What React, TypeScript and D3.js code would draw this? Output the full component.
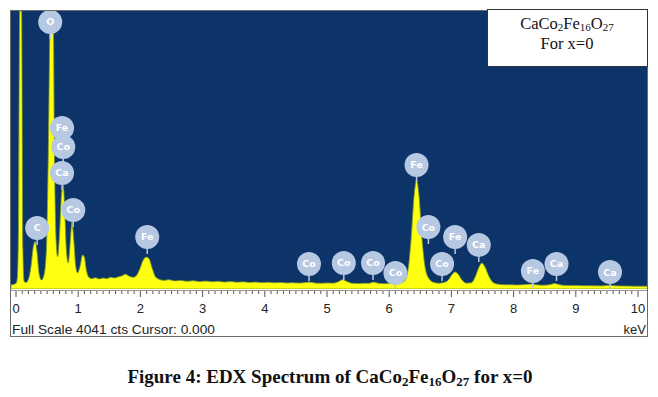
import React from "react";
import * as d3 from "d3";

// ---- data ----
const spectrum: [number, number][] = [
  [-0.08, 60], [0.0, 80], [0.02, 150], [0.04, 900], [0.06, 4041], [0.09, 4041], [0.11, 600], [0.13, 110],
  [0.16, 95], [0.2, 140], [0.24, 320], [0.28, 620], [0.31, 690], [0.34, 520], [0.37, 230], [0.41, 130],
  [0.45, 200], [0.49, 600], [0.52, 2000], [0.55, 3850], [0.6, 3850], [0.62, 1800], [0.645, 700], [0.67, 470],
  [0.7, 800], [0.73, 1350], [0.76, 1510], [0.785, 1100], [0.81, 560], [0.84, 380], [0.87, 650], [0.9, 975],
  [0.93, 700], [0.96, 330], [0.99, 235], [1.03, 330], [1.07, 495], [1.1, 460], [1.13, 280], [1.17, 170],
  [1.22, 150], [1.28, 165], [1.34, 145], [1.4, 160], [1.46, 150], [1.52, 170], [1.58, 160], [1.64, 175],
  [1.7, 190], [1.76, 215], [1.82, 185], [1.88, 170], [1.94, 200], [1.99, 290], [2.04, 410], [2.09, 465],
  [2.14, 440], [2.19, 300], [2.24, 180], [2.3, 140], [2.38, 125], [2.46, 135], [2.55, 118], [2.65, 125],
  [2.75, 112], [2.85, 120], [2.95, 108], [3.05, 115], [3.15, 105], [3.25, 112], [3.35, 100], [3.45, 108],
  [3.55, 98], [3.65, 104], [3.75, 95], [3.85, 100], [3.95, 92], [4.05, 98], [4.15, 90], [4.25, 95],
  [4.35, 88], [4.45, 92], [4.55, 86], [4.65, 95], [4.72, 100], [4.8, 88], [4.9, 84], [5.0, 88],
  [5.1, 85], [5.18, 105], [5.25, 135], [5.32, 110], [5.4, 84], [5.5, 80], [5.6, 84], [5.68, 82],
  [5.75, 100], [5.82, 84], [5.92, 78], [6.0, 80], [6.08, 85], [6.16, 82], [6.24, 110], [6.3, 260],
  [6.35, 700], [6.4, 1350], [6.44, 1585], [6.48, 1350], [6.53, 700], [6.58, 300], [6.64, 150], [6.72, 95],
  [6.8, 85], [6.88, 95], [6.95, 130], [7.01, 210], [7.06, 248], [7.11, 215], [7.17, 130], [7.24, 85],
  [7.32, 90], [7.38, 170], [7.44, 310], [7.49, 378], [7.54, 320], [7.6, 190], [7.67, 95], [7.75, 70],
  [7.85, 62], [7.95, 60], [8.05, 58], [8.15, 62], [8.24, 68], [8.3, 72], [8.36, 62], [8.46, 55],
  [8.55, 58], [8.61, 70], [8.66, 80], [8.71, 70], [8.78, 55], [8.9, 52], [9.0, 50], [9.1, 48],
  [9.2, 47], [9.3, 46], [9.4, 45], [9.5, 52], [9.56, 55], [9.62, 48], [9.72, 44], [9.82, 42],
  [9.92, 41], [10.05, 40], [10.2, 40],
];

const peakElements = ["O", "Fe", "Co", "Ca", "Co", "C", "Fe", "Co", "Co", "Co", "Co", "Fe", "Co", "Co", "Fe", "Ca", "Fe", "Ca", "Ca"];
const peakEnergies = [0.55, 0.74, 0.76, 0.74, 0.92, 0.34, 2.11, 4.71, 5.27, 5.74, 6.1, 6.44, 6.63, 6.85, 7.06, 7.44, 8.31, 8.69, 9.55];
const peakLabelCounts = [3882, 2341, 2065, 1687, 1149, 887, 756, 364, 378, 378, 233, 1803, 901, 364, 756, 640, 262, 364, 247];

const xTicks = [0, 1, 2, 3, 4, 5, 6, 7, 8, 9, 10];
const minorTicks = d3.range(0, 101).map((i) => i / 10);
const fullScale = 4041;

export default function App() {
  const W = 658, H = 397;
  const plot = { left: 11, right: 647, top: 11, bottom: 289 };
  const x = d3.scaleLinear().domain([0, 10]).range([16, 638]);
  const y = d3.scaleLinear().domain([0, fullScale]).range([plot.bottom, plot.top]);

  const area = d3
    .area<[number, number]>()
    .x((d) => x(d[0]))
    .y0(plot.bottom)
    .y1((d) => y(d[1]))
    .curve(d3.curveMonotoneX)(spectrum) as string;

  const r = 12;
  const labels = peakElements.map((el, i) => ({ el, cx: x(peakEnergies[i]), cy: y(peakLabelCounts[i]) }));

  return (
    <svg width={W} height={H} style={{ position: "absolute", left: 0, top: 0, background: "#fff" }}>
      <defs>
        <clipPath id="plotclip">
          <rect x={plot.left} y={plot.top} width={plot.right - plot.left} height={plot.bottom - plot.top} />
        </clipPath>
      </defs>
      {/* frame */}
      <rect x={plot.left - 0.5} y={plot.top - 0.5} width={plot.right - plot.left + 1} height={337 - plot.top} fill="#fff" stroke="#6b6b6b" strokeWidth={1} />
      <rect x={plot.left} y={plot.top} width={plot.right - plot.left} height={plot.bottom - plot.top} fill="#0c3468" />
      <g clipPath="url(#plotclip)">
        <path d={area} fill="#ffff10" stroke="#7a9a2a" strokeWidth={0.8} />
        {labels.map((l, i) => (
          <g key={i}>
            <line x1={l.cx} x2={l.cx} y1={l.cy + r - 1} y2={l.cy + r + 5} stroke="#b7c8e2" strokeWidth={1.5} />
            <circle cx={l.cx} cy={l.cy} r={r} fill="#b7c8e2" />
            <text x={l.cx} y={l.cy + 3.5} textAnchor="middle" fill="#ffffff" fontFamily="DejaVu Sans, Verdana, sans-serif" fontWeight="bold" fontSize={9.5}>
              {l.el}
            </text>
          </g>
        ))}
      </g>
      {/* ticks */}
      {minorTicks.map((t, i) => {
        const major = Math.abs(t - Math.round(t)) < 1e-6;
        return (
          <line key={i} x1={x(t)} x2={x(t)} y1={plot.bottom + 1} y2={plot.bottom + (major ? 8 : 5)} stroke="#555" strokeWidth={1} />
        );
      })}
      <line x1={plot.left} x2={plot.right} y1={plot.bottom + 1.5} y2={plot.bottom + 1.5} stroke="#999" strokeWidth={1} />
      {xTicks.map((t) => (
        <text key={t} x={x(t)} y={313} textAnchor="middle" fontFamily="Liberation Sans, Arial, sans-serif" fontSize={13} fill="#222">
          {t}
        </text>
      ))}
      <text x={12} y={334} fontFamily="Liberation Sans, Arial, sans-serif" fontSize={13} fill="#222" textLength={203} lengthAdjust="spacingAndGlyphs">
        Full Scale {fullScale} cts Cursor: 0.000
      </text>
      <text x={646} y={334} textAnchor="end" fontFamily="Liberation Sans, Arial, sans-serif" fontSize={13} fill="#222">
        keV
      </text>
      {/* legend box */}
      <rect x={487.5} y={9.5} width={160} height={57} fill="#fff" stroke="#333" strokeWidth={1} />
      <text x={567} y={28.5} textAnchor="middle" fontFamily="Liberation Serif, Times New Roman, serif" fontSize={16.5} fill="#111">
        CaCo<tspan fontSize={11} dy={2.5}>2</tspan>
        <tspan dy={-2.5}>Fe</tspan>
        <tspan fontSize={11} dy={2.5}>16</tspan>
        <tspan dy={-2.5}>O</tspan>
        <tspan fontSize={11} dy={2.5}>27</tspan>
      </text>
      <text x={567} y={49} textAnchor="middle" fontFamily="Liberation Serif, Times New Roman, serif" fontSize={16.5} fill="#111">
        For x=0
      </text>
      {/* caption */}
      <text x={330} y={383} textAnchor="middle" fontFamily="Liberation Serif, Times New Roman, serif" fontWeight="bold" fontSize={19} fill="#111">
        Figure 4: EDX Spectrum of CaCo<tspan fontSize={13} dy={3}>2</tspan>
        <tspan dy={-3}>Fe</tspan>
        <tspan fontSize={13} dy={3}>16</tspan>
        <tspan dy={-3}>O</tspan>
        <tspan fontSize={13} dy={3}>27</tspan>
        <tspan dy={-3}> for x=0</tspan>
      </text>
    </svg>
  );
}
